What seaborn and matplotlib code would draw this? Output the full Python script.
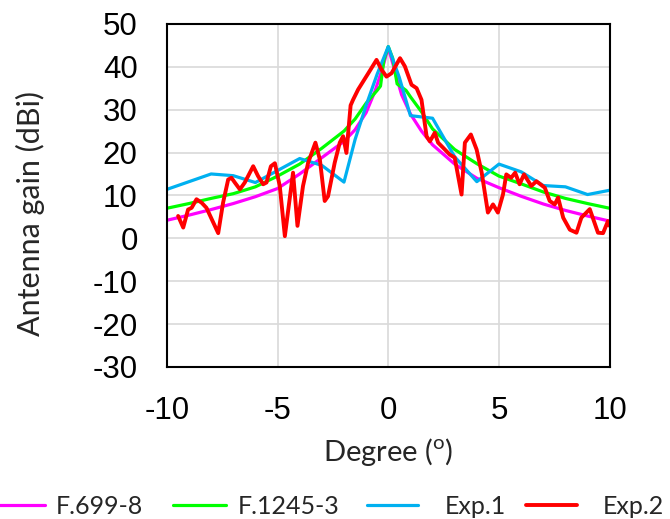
import numpy as np
import pandas as pd
import matplotlib
matplotlib.use('Agg')
import matplotlib.pyplot as plt
import seaborn as sns

# ++++++++++++++++++++++++++++++++++++++++++++++++++++++++++++ data
deg_f699 = [-10, -9, -8, -7, -6, -5, -4, -3, -2, -1.5, -1, -0.6, -0.3, 0,
            0.3, 0.6, 1, 1.5, 2, 3, 4, 5, 6, 7, 8, 9, 10]
gain_f699 = [4.2, 5.4, 6.7, 8.1, 9.7, 11.6, 15.0, 18.8, 22.6, 25.3, 29.3, 34.3, 39.0, 44.5,
             39.0, 33.5, 29.0, 25.0, 21.8, 17.3, 14.0, 11.8, 9.8, 8.0, 6.5, 5.2, 4.0]

deg_f1245 = [-10, -9, -8, -7, -6, -5, -4, -3, -2, -1.5, -1, -0.5, -0.35, -0.2, 0,
             0.2, 0.4, 0.8, 1, 1.5, 2, 3, 4, 5, 6, 7, 8, 9, 10]
gain_f1245 = [7.0, 8.1, 9.3, 10.4, 12.0, 14.5, 17.3, 21.0, 25.0, 27.8, 31.5, 34.5, 35.5, 41.5, 44.7,
              42.0, 36.0, 34.5, 33.0, 29.5, 25.5, 20.7, 17.4, 14.5, 12.7, 10.8, 9.3, 8.1, 7.0]

deg_exp1 = [-10, -8, -7, -6, -5, -4, -3, -2, -1.5, -1, -0.5, 0,
            0.5, 1, 2, 3, 4, 5, 6, 7, 8, 9, 10]
gain_exp1 = [11.4, 15.0, 14.6, 13.0, 15.8, 18.6, 17.0, 13.1, 23.0, 31.0, 38.3, 44.7,
             37.5, 28.6, 28.0, 19.0, 13.2, 17.3, 15.5, 12.3, 12.0, 10.2, 11.2]

deg_exp2 = [-9.49, -9.26, -9.04, -8.88, -8.66, -8.43, -8.21, -7.68, -7.46, -7.23, -7.08, -6.93,
            -6.70, -6.48, -6.10, -5.88, -5.65, -5.50, -5.30, -5.12, -4.90, -4.67, -4.30, -4.10,
            -3.85, -3.62, -3.29, -3.09, -2.87, -2.72, -2.42, -2.19, -2.04, -1.89, -1.70, -1.59,
            -1.36, -1.13, -0.90, -0.53, -0.30, -0.08, 0.15, 0.53, 0.75, 1.05, 1.28, 1.50,
            1.73, 1.88, 2.10, 2.25, 2.48, 2.78, 3.00, 3.31, 3.46, 3.73, 3.99, 4.22,
            4.50, 4.73, 4.95, 5.18, 5.33, 5.55, 5.73, 5.93, 6.13, 6.46, 6.69, 7.07,
            7.29, 7.52, 7.67, 7.90, 8.20, 8.50, 8.72, 9.10, 9.47, 9.70, 9.92, 10.0]
gain_exp2 = [5.2, 2.5, 6.7, 7.1, 9.1, 8.3, 7.1, 1.2, 8.3, 13.7, 14.1, 13.0,
             11.4, 13.0, 16.8, 14.5, 12.6, 13.0, 16.8, 17.5, 12.2, 0.5, 15.3, 2.9,
             12.2, 17.6, 22.3, 18.4, 8.7, 9.8, 17.6, 22.3, 23.8, 19.9, 31.0, 32.3,
             34.7, 36.6, 38.5, 41.6, 39.3, 37.7, 38.5, 42.0, 40.1, 35.8, 35.0, 32.3,
             23.8, 22.6, 24.6, 22.3, 21.1, 19.5, 18.8, 10.2, 22.3, 24.2, 20.7, 15.3,
             6.0, 7.9, 6.0, 10.2, 14.9, 14.1, 15.3, 12.6, 14.9, 12.2, 13.3, 11.8,
             8.7, 7.9, 9.5, 4.8, 2.0, 1.3, 4.8, 6.8, 1.3, 1.2, 4.0, 2.9]

series = [('F.699-8', deg_f699, gain_f699, '#FF00FF', 2.3),
          ('F.1245-3', deg_f1245, gain_f1245, '#00FF00', 2.3),
          ('Exp.1', deg_exp1, gain_exp1, '#00B0F0', 2.3),
          ('Exp.2', deg_exp2, gain_exp2, '#FF0000', 2.8)]

xticks = [-10, -5, 0, 5, 10]
yticks = [-30, -20, -10, 0, 10, 20, 30, 40, 50]

# ++++++++++++++++++++++++++++++++++++++++++++++++++++++++++++ plot
sns.set_style('white')
plt.rcParams['font.family'] = ['Liberation Sans', 'DejaVu Sans']
plt.rcParams['mathtext.fontset'] = 'custom'
plt.rcParams['mathtext.rm'] = 'Lato'

fig = plt.figure(figsize=(6.7, 5.19), dpi=100)
ax = fig.add_axes([0.249, 0.293, 0.661, 0.661])

for name, xs, ys, col, lw in series:
    df = pd.DataFrame({'deg': xs, 'gain': ys})
    sns.lineplot(data=df, x='deg', y='gain', ax=ax, color=col, lw=lw,
                 label=name, sort=False, legend=False)

ax.set_xlim(-10, 10)
ax.set_ylim(-30, 50)
ax.set_xticks(xticks)
ax.set_yticks(yticks)
ax.set_xticklabels([str(t) for t in xticks])
ax.set_yticklabels([str(t) for t in yticks])
ax.grid(True, color='#d9d9d9', lw=1.2)
ax.set_axisbelow(True)
for s in ax.spines.values():
    s.set_color('black')
    s.set_linewidth(1.5)
ax.tick_params(axis='both', length=0, labelsize=22.5, colors='black')
ax.tick_params(axis='y', pad=21)
ax.tick_params(axis='x', pad=21)
ax.set_xlabel('')
ax.set_ylabel('')

fig.text(30 / 670, 1 - 214 / 519, 'Antenna gain (dBi)', rotation=90, ha='center', va='center',
         fontsize=22, family='Lato')
fig.text(388 / 670, 1 - 452 / 519, r'Degree ($^{\mathrm{o}}$)', ha='center', va='center',
         fontsize=21, family='Lato')

# legend: two groups, Excel puts a wider gap before the Exp. names
h, l = ax.get_legend_handles_labels()
leg1 = fig.legend(h[:2], l[:2], loc='center left', bbox_to_anchor=(-8 / 670, 0.024), ncol=2,
                  frameon=False, prop={'family': 'Lato', 'size': 18}, borderpad=0,
                  borderaxespad=0, handlelength=2.12, handletextpad=0.44, columnspacing=1.2)
leg2 = fig.legend(h[2:], l[2:], loc='center left', bbox_to_anchor=(367 / 670, 0.024), ncol=2,
                  frameon=False, prop={'family': 'Lato', 'size': 18}, borderpad=0,
                  borderaxespad=0, handlelength=2.05, handletextpad=1.04, columnspacing=0.8)

plt.savefig('out.png', dpi=100)
